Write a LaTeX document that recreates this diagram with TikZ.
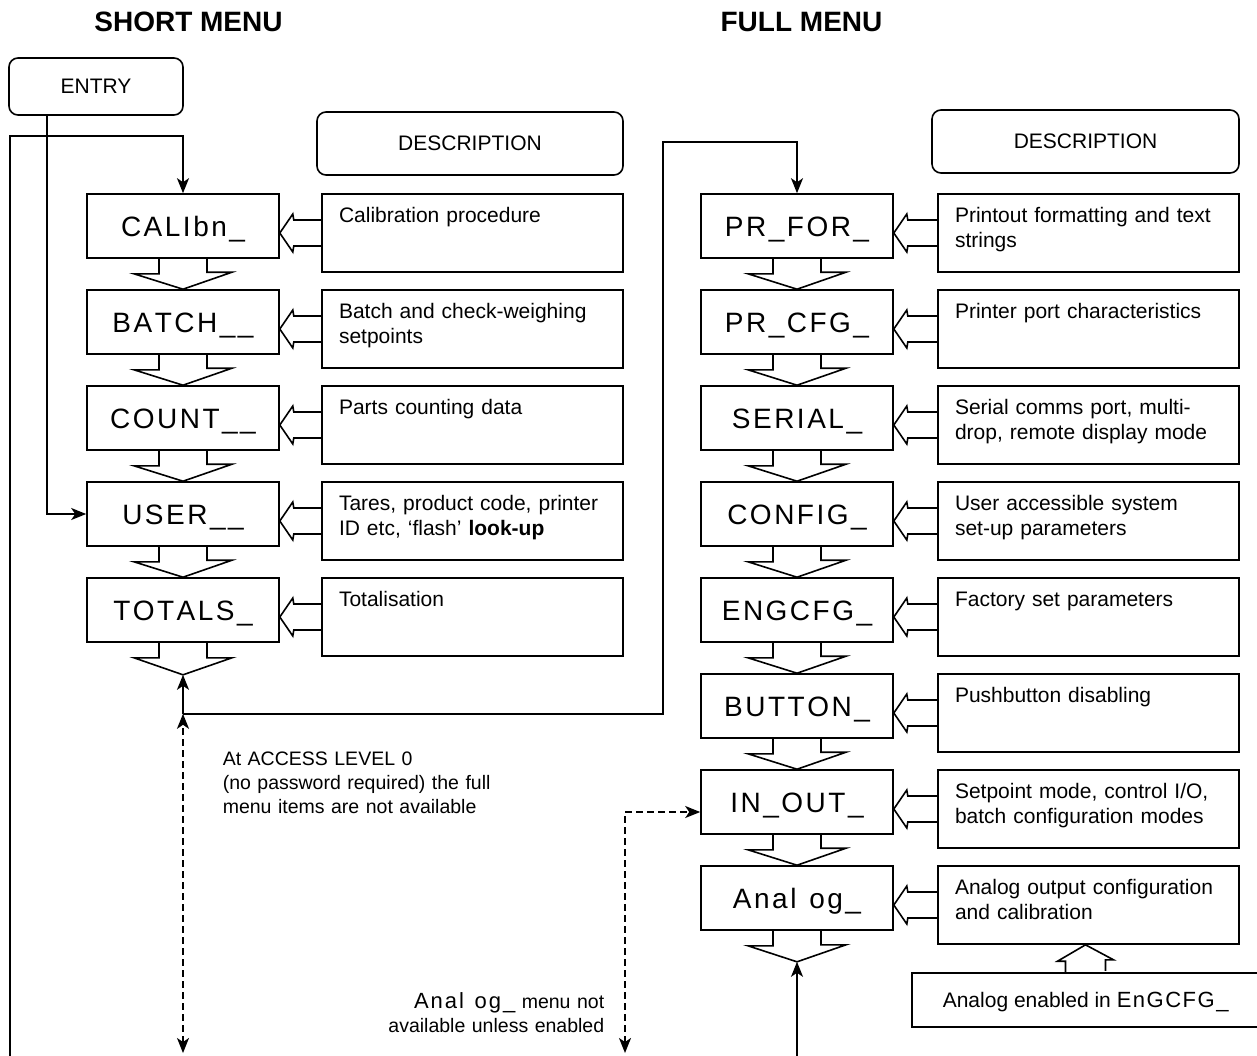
\documentclass[tikz,border=0pt]{standalone}
\usepackage{fontspec}
\setmainfont{Liberation Sans}
\usetikzlibrary{arrows.meta,calc}
\newdimen\trkamt
\makeatletter
\def\trk#1{\kern-\trkamt\trk@aux#1\relax}
\def\trk@aux#1{\ifx#1\relax\else\kern\trkamt#1\expandafter\trk@aux\fi}
\makeatother
\newcommand\mfont{\fontsize{28}{32}\selectfont\trkamt=2.5pt\relax}
\newcommand\dfont{\fontsize{21}{25}\selectfont}
\newcommand\afont{\fontsize{19.5}{24}\selectfont}
\tikzset{
  menu/.style={draw, minimum width=192pt, minimum height=64pt, inner sep=0pt,
    text height=25pt, text depth=4pt, font=\mfont},
  desc/.style={draw, minimum width=301pt, minimum height=78pt, inner sep=0pt},
  dtext/.style={anchor=base west, inner sep=0pt, text width=290pt, align=left, font=\dfont},
  rbox/.style={draw, rounded corners=9pt, inner sep=0pt, font=\dfont},
  arr/.style={-{Stealth[length=15pt,width=12pt,inset=4pt]}},
  darr/.style={dash pattern=on 7pt off 4pt,
    {Stealth[length=15pt,width=12pt,inset=4pt]}-{Stealth[length=15pt,width=12pt,inset=4pt]}},
  note/.style={inner sep=0pt, font=\afont},
}
\begin{document}
\begin{tikzpicture}[x=1pt,y=-1pt,line width=1.6pt]
\useasboundingbox (0,0) rectangle (1257,1055);
\clip (0,0) rectangle (1257,1055);

% titles
\node[font=\bfseries\fontsize{28}{30}\selectfont] (t1) at (188.5,22) {SHORT MENU};
\node[font=\bfseries\fontsize{28}{30}\selectfont] (t2) at (801.5,22) {FULL MENU};

% entry and headers
\node[rbox, minimum width=174pt, minimum height=57pt] (entry) at (96,86.5) {ENTRY};
\node[rbox, minimum width=306pt, minimum height=63pt] (hd1) at (470,143.5) {DESCRIPTION};
\node[rbox, minimum width=307pt, minimum height=63pt] (hd2) at (1085.5,141.5) {DESCRIPTION};

% short menu
\node[menu] (cal) at (183,226) {\trk{CALIbn\_}};
\node[menu] (bat) at (183,322) {\trk{BATCH\_\_}};
\node[menu] (cnt) at (183,418) {\trk{COUNT\_\_}};
\node[menu] (usr) at (183,514) {\trk{USER\_\_}};
\node[menu] (tot) at (183,610) {\trk{TOTALS\_}};

\node[desc] (dcal) at (472.5,233) {};
\node[desc] (dbat) at (472.5,329) {};
\node[desc] (dcnt) at (472.5,425) {};
\node[desc] (dusr) at (472.5,521) {};
\node[desc] (dtot) at (472.5,617) {};

\node[dtext] (xcal) at ($(dcal.north west)+(17,29)$) {Calibration procedure};
\node[dtext] (xbat) at ($(dbat.north west)+(17,29)$) {Batch and check-weighing\\setpoints};
\node[dtext] (xcnt) at ($(dcnt.north west)+(17,29)$) {Parts counting data};
\node[dtext] (xusr) at ($(dusr.north west)+(17,29)$) {Tares, product code, printer\\ID etc, ‘flash’ \textbf{look-up}};
\node[dtext] (xtot) at ($(dtot.north west)+(17,29)$) {Totalisation};

% full menu
\node[menu] (pfor) at (797,226) {\trk{PR\_FOR\_}};
\node[menu] (pcfg) at (797,322) {\trk{PR\_CFG\_}};
\node[menu] (ser)  at (797,418) {\trk{SERIAL\_}};
\node[menu] (cfg)  at (797,514) {\trk{CONFIG\_}};
\node[menu] (eng)  at (797,610) {\trk{ENGCFG\_}};
\node[menu] (btn)  at (797,706) {\trk{BUTTON\_}};
\node[menu] (io)   at (797,802) {\trk{IN\_OUT\_}};
\node[menu] (ana)  at (797,898) {\trk{Anal\ og\_}};

\node[desc] (dpfor) at (1088.5,233) {};
\node[desc] (dpcfg) at (1088.5,329) {};
\node[desc] (dser)  at (1088.5,425) {};
\node[desc] (dcfg)  at (1088.5,521) {};
\node[desc] (deng)  at (1088.5,617) {};
\node[desc] (dbtn)  at (1088.5,713) {};
\node[desc] (dio)   at (1088.5,809) {};
\node[desc] (dana)  at (1088.5,905) {};

\node[dtext] (xpfor) at ($(dpfor.north west)+(17,29)$) {Printout formatting and text\\strings};
\node[dtext] (xpcfg) at ($(dpcfg.north west)+(17,29)$) {Printer port characteristics};
\node[dtext] (xser)  at ($(dser.north west)+(17,29)$) {Serial comms port, multi-\\drop, remote display mode};
\node[dtext] (xcfg)  at ($(dcfg.north west)+(17,29)$) {User accessible system\\set-up parameters};
\node[dtext] (xeng)  at ($(deng.north west)+(17,29)$) {Factory set parameters};
\node[dtext] (xbtn)  at ($(dbtn.north west)+(17,29)$) {Pushbutton disabling};
\node[dtext] (xio)   at ($(dio.north west)+(17,29)$) {Setpoint mode, control I/O,\\batch configuration modes};
\node[dtext] (xana)  at ($(dana.north west)+(17,29)$) {Analog output configuration\\and calibration};

% analog enabled box
\node[draw, minimum width=388pt, minimum height=54pt, inner sep=0pt] (en) at (1106,1000) {};
\node[anchor=base west, inner sep=0pt, font=\dfont] (xen) at (942,1007)
  {Analog enabled in {\fontsize{22}{25}\selectfont\trkamt=1.5pt\relax\trk{EnGCFG\_}}};

% coordinates
\coordinate (ltip) at ([yshift=-32pt]tot.south);
\coordinate (atip) at ([yshift=-31pt]ana.south);
\coordinate (lmid) at ([yshift=-71pt]tot.south);
\coordinate (ltop) at ([yshift=57pt]cal.north);
\coordinate (lbot) at (10,1062);
\coordinate (rc) at (663,142);
\coordinate (dbotl) at (183,1053);
\coordinate (dbotr) at (625,1053);
\coordinate (abot) at (797,1062);
\coordinate (entip) at ($(dana.south)+(-3,0)$);

% down block arrows
\foreach \a/\b in {cal/bat.north, bat/cnt.north, cnt/usr.north, usr/tot.north, tot/ltip,
  pfor/pcfg.north, pcfg/ser.north, ser/cfg.north, cfg/eng.north, eng/btn.north,
  btn/io.north, io/ana.north, ana/atip}
  \draw (\a.south) ++(-24,0) -- ++(0,15) -- ++(-25,0) -- (\b) -- ++(49,-17) -- ++(-25,0) -- ++(0,-15);

% left-pointing block arrows
\foreach \m/\d in {cal/dcal, bat/dbat, cnt/dcnt, usr/dusr, tot/dtot,
  pfor/dpfor, pcfg/dpcfg, ser/dser, cfg/dcfg, eng/deng, btn/dbtn, io/dio, ana/dana}
  \draw ($(\d.west)+(0,-13)$) -- ($(\m.east|-\d.west)+(14,-13)$) -- ++(-1,-6)
    -- (\m.east|-\d.west) -- ++(13,19) -- ++(1,-6) -- ($(\d.west)+(0,13)$);

% up block arrow from analog enabled box
\draw ($(entip|-en.north)+(-20,0)$) -- ++(0,-11) -- ++(-8,0) -- (entip) -- ++(28,15) -- ++(-8,0) -- ++(0,11);

% connectors
\draw[arr] (lbot) |- (ltop) -- (cal.north);
\draw[arr] ($(entry.south west)+(39,0)$) |- (usr.west);
\draw[arr] (lmid) -- (ltip);
\draw[arr] (lmid) -| (rc) -| (pfor.north);
\draw[darr] (dbotl) -- (lmid);
\draw[darr] (dbotr) |- ($(io.west)+(0,10)$);
\draw[arr] (abot) -- (atip);

% notes
\node[note, anchor=base west, text width=320pt, align=left] (n1) at (222,765)
  {At ACCESS LEVEL 0\\(no password required) the full\\menu items are not available};
\node[note, anchor=base east, text width=280pt, align=right] (n2) at (605,1008)
  {{\fontsize{22}{24}\selectfont\trkamt=2pt\relax\trk{Anal\ og\_}} menu not\\available unless enabled};
\end{tikzpicture}
\end{document}
